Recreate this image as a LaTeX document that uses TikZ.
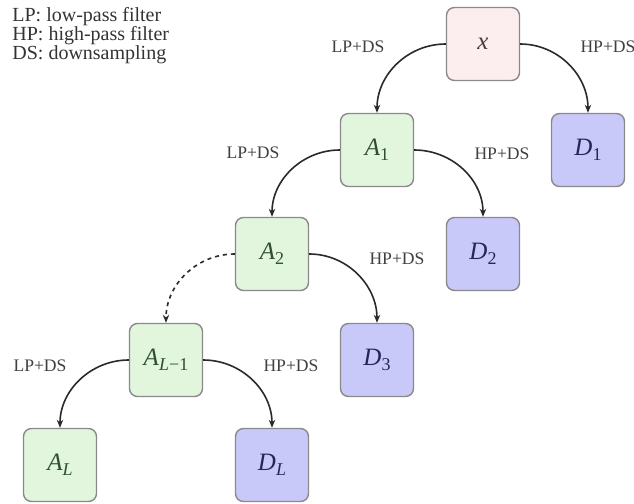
\documentclass[tikz,border=0pt]{standalone}
\usepackage{fontspec}
\setmainfont{Liberation Serif}
\usetikzlibrary{arrows.meta}
\definecolor{xfill}{HTML}{FCEEEE}
\definecolor{afill}{HTML}{E1F6DD}
\definecolor{dfill}{HTML}{C9C9F9}
\definecolor{bordc}{HTML}{8A8A8A}
\definecolor{xtext}{HTML}{4A3A3A}
\definecolor{atext}{HTML}{2F4F2F}
\definecolor{dtext}{HTML}{25255A}
\definecolor{edgec}{HTML}{2A2A2A}
\newcommand{\lab}[2]{\textit{#1}\raisebox{-0.45ex}{\fontsize{9}{10}\selectfont #2}}
\begin{document}
\begin{tikzpicture}[x=0.5pt,y=-0.5pt,
  box/.style={draw=bordc, line width=0.7pt, rounded corners=4pt,
    minimum width=36.5pt, minimum height=36.5pt, inner sep=0pt,
    font=\fontsize{12.5}{14}\selectfont},
  xbox/.style={box, fill=xfill, text=xtext},
  abox/.style={box, fill=afill, text=atext},
  dbox/.style={box, fill=dfill, text=dtext},
  edge/.style={draw=edgec, line width=0.8pt, -{Stealth[length=4pt,width=3.2pt]}},
  lbl/.style={font=\fontsize{8.8}{10}\selectfont, text=black!75, inner sep=0pt},
  legend/.style={font=\fontsize{10}{12}\selectfont, text=black!80, anchor=west, inner sep=0pt}
]
\useasboundingbox (0,0) rectangle (634,504);

\node[legend] (l1) at (12,17) {LP: low-pass filter};
\node[legend] (l2) at (12,36) {HP: high-pass filter};
\node[legend] (l3) at (12,55) {DS: downsampling};

\node[xbox] (x)  at (483,44)  {\textit{x}};
\node[abox] (A1) at (377,150) {\lab{A}{1}};
\node[dbox] (D1) at (588,150) {\lab{D}{1}};
\node[abox] (A2) at (272,254) {\lab{A}{2}};
\node[dbox] (D2) at (483,254) {\lab{D}{2}};
\node[abox] (AL1) at (166,360) {\lab{A}{\textit{L}−1}};
\node[dbox] (D3) at (377,360) {\lab{D}{3}};
\node[abox] (AL) at (60,465) {\lab{A}{\textit{L}}};
\node[dbox] (DL) at (272,465) {\lab{D}{\textit{L}}};

\draw[edge] (x.west) to[out=180,in=90] (A1.north);
\draw[edge] (x.east) to[out=0,in=90] (D1.north);
\draw[edge] (A1.west) to[out=180,in=90] (A2.north);
\draw[edge] (A1.east) to[out=0,in=90] (D2.north);
\draw[edge, dash pattern=on 2pt off 2pt] (A2.west) to[out=180,in=90] (AL1.north);
\draw[edge] (A2.east) to[out=0,in=90] (D3.north);
\draw[edge] (AL1.west) to[out=180,in=90] (AL.north);
\draw[edge] (AL1.east) to[out=0,in=90] (DL.north);

\node[lbl] (t1) at (358,47) {LP+DS};
\node[lbl] (t2) at (608,47) {HP+DS};
\node[lbl] (t3) at (253,153) {LP+DS};
\node[lbl] (t4) at (502,154) {HP+DS};
\node[lbl] (t5) at (397,259) {HP+DS};
\node[lbl] (t6) at (40,366) {LP+DS};
\node[lbl] (t7) at (291,366) {HP+DS};
\end{tikzpicture}
\end{document}
